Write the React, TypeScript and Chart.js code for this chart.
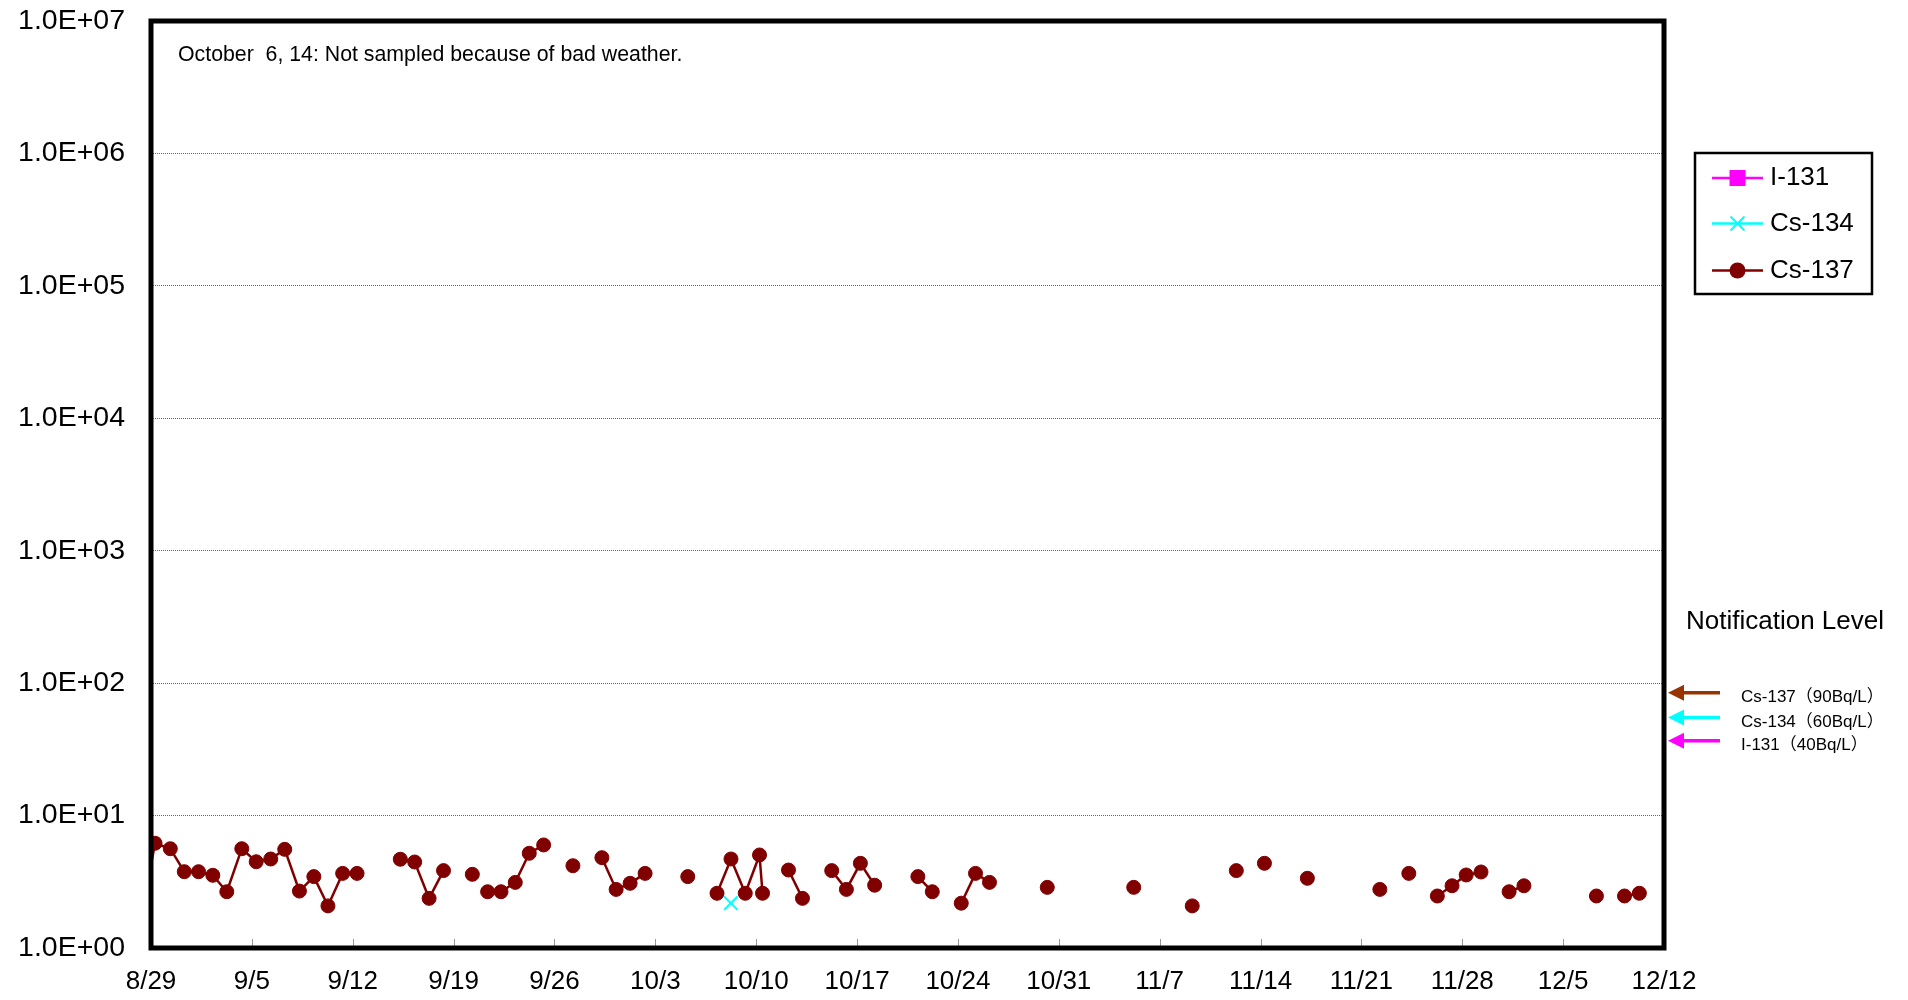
import React, { useEffect, useRef } from 'react';
import { Chart, registerables } from 'chart.js';

Chart.register(...registerables);

// ---- data ----
const xTickLabels = ['8/29', '9/5', '9/12', '9/19', '9/26', '10/3', '10/10', '10/17', '10/24', '10/31', '11/7', '11/14', '11/21', '11/28', '12/5', '12/12'];
const yTickValues = [1, 10, 100, 1000, 10000, 100000, 1000000, 10000000];
const yTickLabels = ['1.0E+00', '1.0E+01', '1.0E+02', '1.0E+03', '1.0E+04', '1.0E+05', '1.0E+06', '1.0E+07'];

// days elapsed since 8/29 (fraction = sampling time); a null value breaks the line
const cs137Days = [
  -0.72, 0.28, 1.34, 2.31, 3.30, 4.29, 5.26, 6.30, 7.30, 8.31, 9.28, 10.30, 11.30, 12.28, 13.30, 14.30, 15.8,
  17.30, 18.30, 19.30, 20.30, 21.3, 22.30, 22.9, 23.36, 24.29, 25.28, 26.25, 27.25, 28.3, 29.28, 30.3,
  31.29, 32.28, 33.25, 34.29, 35.8, 37.25, 38.3, 39.28, 40.25, 41.24, 42.23, 42.44, 43.3, 44.24, 45.21, 46.2,
  47.24, 48.26, 49.23, 50.22, 51.7, 53.22, 54.22, 55.2, 56.23, 57.22, 58.19, 60.2, 62.2, 65.2, 68.2, 70.2,
  72.26, 73.8, 75.32, 76.3, 77.27, 78.8, 80.25, 82.8, 85.28, 86.3, 87.29, 88.3, 89.27, 90.29, 91.27, 92.30, 93.3,
  94.25, 95.28, 97.8, 100.31, 101.3, 102.26, 103.29,
];
const cs137Values = [
  1.6, 6.18, 5.62, 3.77, 3.77, 3.54, 2.66, 5.62, 4.48, 4.70, 5.56, 2.69, 3.46, 2.08, 3.66, 3.66, null,
  4.68, 4.46, 2.37, 3.84, null, 3.60, null, 2.66, 2.66, 3.13, 5.19, 6.00, null, 4.18, null,
  4.81, 2.77, 3.08, 3.66, null, 3.46, null, 2.59, 4.70, 2.59, 5.04, 2.59, null, 3.88, 2.37, null,
  3.84, 2.77, 4.36, 2.98, null, 3.46, 2.66, null, 2.18, 3.66, 3.13, null, 2.87, null, 2.87, null,
  2.08, null, 3.84, null, 4.36, null, 3.36, null, 2.77, null, 3.66, null, 2.47, 2.95, 3.56, 3.75, null,
  2.66, 2.95, null, 2.47, null, 2.47, 2.59,
];
const cs134Days = [40.24];
const cs134Values = [2.18];
const i131Days: number[] = [];
const i131Values: number[] = [];

const seriesNames = ['I-131', 'Cs-134', 'Cs-137'];
const seriesColors = ['#FF00FF', '#00FFFF', '#800000'];

const levelNames = ['Cs-137（90Bq/L）', 'Cs-134（60Bq/L）', 'I-131（40Bq/L）'];
const levelValues = [90, 60, 40];
const levelColors = ['#993300', '#00FFFF', '#FF00FF'];
const levelArrowNudge = [3.5, 5, 5];

const noteText = 'October  6, 14: Not sampled because of bad weather.';
const levelTitle = 'Notification Level';

const FONT = '"Liberation Sans", Arial, sans-serif';
const FONT_CJK = '"Liberation Sans", Arial, "Noto Sans CJK JP", sans-serif';

const toPoints = (xs: number[], ys: (number | null)[]) => xs.map((x, i) => ({ x, y: ys[i] }));

function drawMarker(ctx: CanvasRenderingContext2D, kind: number, cx: number, cy: number) {
  ctx.save();
  if (kind === 0) {
    ctx.fillStyle = seriesColors[0];
    ctx.fillRect(cx - 8, cy - 8, 16, 16);
  } else if (kind === 1) {
    ctx.strokeStyle = seriesColors[1];
    ctx.lineWidth = 2;
    const r = 7;
    ctx.beginPath();
    ctx.moveTo(cx - r, cy - r); ctx.lineTo(cx + r, cy + r);
    ctx.moveTo(cx - r, cy + r); ctx.lineTo(cx + r, cy - r);
    ctx.stroke();
  } else {
    ctx.fillStyle = seriesColors[2];
    ctx.beginPath();
    ctx.arc(cx, cy, 8, 0, Math.PI * 2);
    ctx.fill();
  }
  ctx.restore();
}

const decorPlugin = {
  id: 'decor',
  afterDraw(chart: any) {
    const { ctx, chartArea: a, scales } = chart;
    const xs = scales.x;
    const ys = scales.y;
    ctx.save();

    // inward tick marks on x axis
    ctx.strokeStyle = '#999';
    ctx.lineWidth = 1;
    xs.ticks.forEach((t: any) => {
      const px = Math.round(xs.getPixelForValue(t.value)) + 0.5;
      ctx.beginPath();
      ctx.moveTo(px, a.bottom - 9);
      ctx.lineTo(px, a.bottom);
      ctx.stroke();
    });

    // plot frame
    ctx.strokeStyle = '#000';
    ctx.lineWidth = 5;
    ctx.strokeRect(a.left, a.top, a.right - a.left, a.bottom - a.top);

    // note
    ctx.fillStyle = '#000';
    ctx.textAlign = 'left';
    ctx.textBaseline = 'alphabetic';
    ctx.font = `21.3px ${FONT}`;
    ctx.fillText(noteText, a.left + 27, a.top + 40);

    // legend
    const lx = a.right + 31;
    const ly = 153;
    ctx.lineWidth = 2.5;
    ctx.strokeStyle = '#000';
    ctx.strokeRect(lx, ly, 177, 141);
    const rows = [ly + 25, ly + 70.5, ly + 117.5];
    ctx.font = `26px ${FONT}`;
    ctx.textBaseline = 'middle';
    seriesNames.forEach((name, i) => {
      const ry = rows[i];
      ctx.strokeStyle = seriesColors[i];
      ctx.lineWidth = 2.5;
      ctx.beginPath();
      ctx.moveTo(lx + 17, ry);
      ctx.lineTo(lx + 68, ry);
      ctx.stroke();
      drawMarker(ctx, i, lx + 42.5, ry);
      ctx.fillStyle = '#000';
      ctx.fillText(name, lx + 75, ry);
    });

    // notification levels
    ctx.textBaseline = 'alphabetic';
    ctx.font = `26px ${FONT}`;
    ctx.fillStyle = '#000';
    ctx.fillText(levelTitle, a.right + 22, 629);
    ctx.font = `17px ${FONT_CJK}`;
    levelValues.forEach((v, i) => {
      const py = ys.getPixelForValue(v) + levelArrowNudge[i];
      const tip = a.right + 4;
      ctx.strokeStyle = levelColors[i];
      ctx.fillStyle = levelColors[i];
      ctx.lineWidth = 3.5;
      ctx.beginPath();
      ctx.moveTo(tip + 12, py);
      ctx.lineTo(tip + 52, py);
      ctx.stroke();
      ctx.beginPath();
      ctx.moveTo(tip, py);
      ctx.lineTo(tip + 16, py - 8);
      ctx.lineTo(tip + 16, py + 8);
      ctx.closePath();
      ctx.fill();
      ctx.fillStyle = '#000';
      ctx.fillText(levelNames[i], a.right + 77, py + 9);
    });

    ctx.restore();
  },
};

export default function App() {
  const canvasRef = useRef<HTMLCanvasElement | null>(null);

  useEffect(() => {
    const canvas = canvasRef.current;
    if (!canvas) return;
    Chart.defaults.font.family = FONT;
    const chart = new Chart(canvas, {
      type: 'line',
      data: {
        datasets: [
          {
            label: seriesNames[0],
            data: toPoints(i131Days, i131Values),
            borderColor: seriesColors[0],
            backgroundColor: seriesColors[0],
            pointStyle: 'rect',
            pointRadius: 8,
            borderWidth: 2.5,
          },
          {
            label: seriesNames[1],
            data: toPoints(cs134Days, cs134Values),
            borderColor: seriesColors[1],
            backgroundColor: seriesColors[1],
            pointStyle: 'crossRot',
            pointRadius: 9.5,
            pointBorderWidth: 2,
            borderWidth: 2.5,
          },
          {
            label: seriesNames[2],
            data: toPoints(cs137Days, cs137Values),
            borderColor: seriesColors[2],
            backgroundColor: seriesColors[2],
            pointStyle: 'circle',
            pointRadius: 7,
            pointBorderWidth: 1,
            borderWidth: 2.5,
            spanGaps: false,
          },
        ],
      },
      options: {
        animation: false,
        responsive: false,
        events: [],
        layout: { padding: { left: 0, top: 21, right: 244, bottom: 0 } },
        plugins: { legend: { display: false }, tooltip: { enabled: false } },
        scales: {
          x: {
            type: 'linear',
            min: 0,
            max: 105,
            afterBuildTicks: (s: any) => {
              s.ticks = xTickLabels.map((_, i) => ({ value: i * 7 }));
            },
            afterFit: (s: any) => {
              s.height = 52;
              s.paddingLeft = 0;
              s.paddingRight = 0;
              s.paddingTop = 0;
              s.paddingBottom = 0;
            },
            ticks: {
              callback: (_v: any, i: number) => xTickLabels[i],
              font: { size: 26 },
              color: '#000',
              padding: 18,
              maxRotation: 0,
              autoSkip: false,
            },
            grid: { display: false, drawTicks: false },
            border: { display: false },
          },
          y: {
            type: 'logarithmic',
            min: 1,
            max: 10000000,
            afterBuildTicks: (s: any) => {
              s.ticks = yTickValues.map((v) => ({ value: v }));
            },
            afterFit: (s: any) => {
              s.width = 151;
              s.paddingLeft = 0;
              s.paddingRight = 0;
              s.paddingTop = 0;
              s.paddingBottom = 0;
            },
            ticks: {
              callback: (_v: any, i: number) => yTickLabels[i],
              font: { size: 28.5 },
              color: '#000',
              padding: 26,
              autoSkip: false,
            },
            grid: { color: '#666', lineWidth: 1, drawTicks: false },
            border: { display: false, dash: [1, 1] },
          },
        },
      },
      plugins: [decorPlugin],
    } as any);
    return () => chart.destroy();
  }, []);

  return (
    <div style={{ position: 'fixed', left: 0, top: 0, width: 1908, height: 1000, background: '#fff' }}>
      <canvas ref={canvasRef} width={1908} height={1000} style={{ display: 'block' }} />
    </div>
  );
}
